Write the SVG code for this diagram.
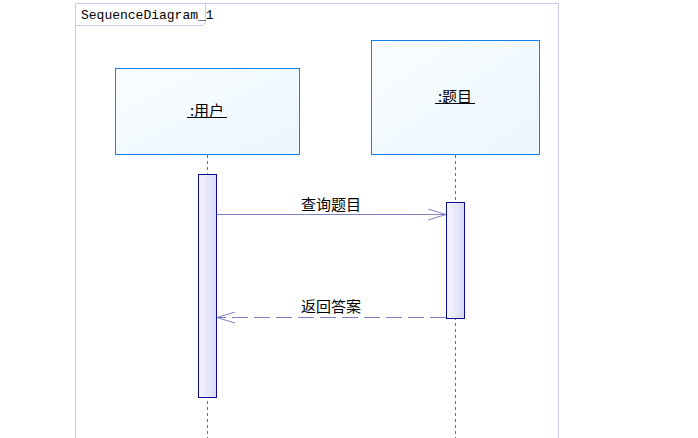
<svg xmlns="http://www.w3.org/2000/svg" width="698" height="438" viewBox="0 0 698 438">
<defs>
<linearGradient id="boxg" x1="0" y1="0" x2="1" y2="1">
<stop offset="0" stop-color="#fbfdff"/>
<stop offset="1" stop-color="#eaf6fd"/>
</linearGradient>
<linearGradient id="actg" x1="0" y1="0" x2="1" y2="0">
<stop offset="0" stop-color="#f6f6ff"/>
<stop offset="1" stop-color="#d8d8f8"/>
</linearGradient>
<marker id="open" markerWidth="20" markerHeight="12" refX="19" refY="6" orient="auto" markerUnits="userSpaceOnUse">
<path d="M1,0.5 L19,6 L1,11.5" fill="none" stroke="#8080c8" stroke-width="1"/>
</marker>
</defs>
<style>
.frame{fill:none;stroke:#c8c8e8;stroke-width:1}
.box{fill:url(#boxg);stroke:#1080f0;stroke-width:1}
.life{stroke:#1a7ee8;stroke-width:1;stroke-dasharray:3,3}
.act{fill:url(#actg);stroke:#0a0a90;stroke-width:1}
.msg{stroke:#8080c8;stroke-width:1;fill:none}
.lbl{font-family:"Noto Sans CJK SC","Liberation Sans",sans-serif;font-size:15px;fill:#000}
.title{font-family:"Liberation Mono","DejaVu Sans Mono",monospace;font-size:13px;fill:#000}
.ul{stroke:#000;stroke-width:1}
</style>
<rect width="698" height="438" fill="#fff"/>
<g id="frame">
<path class="frame" d="M75.5,438 L75.5,3.5 L558.5,3.5 L558.5,438"/>
<path class="frame" d="M75.5,25.5 L202.5,25.5 L205.5,22.5 L205.5,3.5"/>
<text class="title" x="81" y="19">SequenceDiagram_1</text>
</g>
<g id="lifelines">
<line class="life" x1="207.5" y1="155" x2="207.5" y2="438"/>
<line class="life" x1="455.5" y1="155" x2="455.5" y2="438"/>
</g>
<g id="user">
<rect class="box" x="115.5" y="68.5" width="184" height="86"/>
<text class="lbl" x="207" y="116" text-anchor="middle">:用户</text>
<line class="ul" x1="187" y1="117.5" x2="227" y2="117.5"/>
</g>
<g id="topic">
<rect class="box" x="371.5" y="40.5" width="168" height="114"/>
<text class="lbl" x="455" y="102" text-anchor="middle">:题目</text>
<line class="ul" x1="435" y1="103.5" x2="475" y2="103.5"/>
</g>
<g id="act-user">
<rect class="act" x="198.5" y="174.5" width="18" height="223"/>
</g>
<g id="act-topic">
<rect class="act" x="446.5" y="202.5" width="18" height="116"/>
</g>
<g id="connectors">
<line class="msg" x1="217" y1="214.5" x2="446" y2="214.5" marker-end="url(#open)"/>
<text class="lbl" x="331" y="210" text-anchor="middle">查询题目</text>
<line class="msg" x1="446" y1="317.5" x2="217" y2="317.5" stroke-dasharray="16,6" marker-end="url(#open)"/>
<text class="lbl" x="331" y="312" text-anchor="middle">返回答案</text>
</g>
</svg>
